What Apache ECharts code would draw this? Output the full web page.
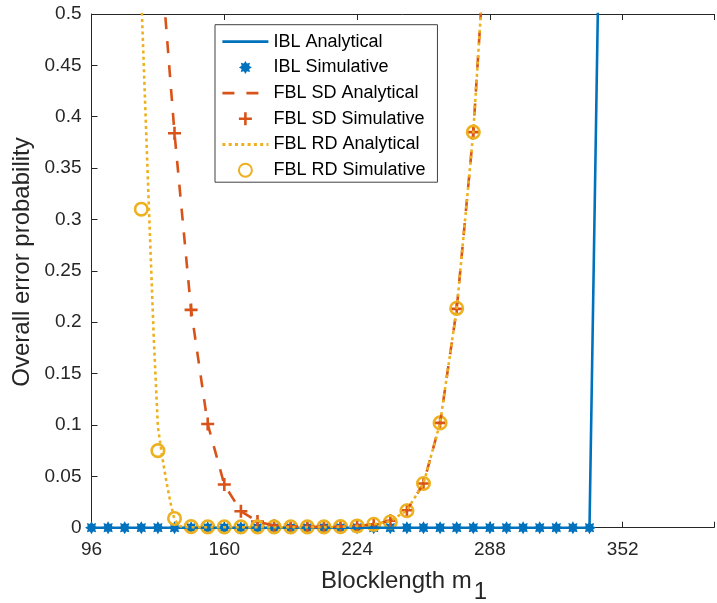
<!DOCTYPE html>
<html><head><meta charset="utf-8">
<script src="https://cdn.jsdelivr.net/npm/echarts@6/dist/echarts.min.js"></script>
<style>html,body{margin:0;padding:0;background:#fff}#c{width:717px;height:603px}</style>
</head><body><div id="c"></div>
<script>
// ---- data ----
const xTickLabels = [96, 160, 224, 288, 352];
const seriesNames = ['IBL Analytical', 'IBL Simulative', 'FBL SD Analytical', 'FBL SD Simulative', 'FBL RD Analytical', 'FBL RD Simulative'];

const iblAnaX = [96,104,112,120,128,136,144,152,160,168,176,184,192,200,208,216,224,232,240,248,256,264,272,280,288,296,304,312,320,328,336,344];
const iblAnaY = [0,0,0,0,0,0,0,0,0,0,0,0,0,0,0,0,0,0,0,0,0,0,0,0,0,0,0,0,0,0,0,1.0];

const iblSimX = [96,104,112,120,128,136,144,152,160,168,176,184,192,200,208,216,224,232,240,248,256,264,272,280,288,296,304,312,320,328,336];
const iblSimY = [0,0,0,0,0,0,0,0,0,0,0,0,0,0,0,0,0,0,0,0,0,0,0,0,0,0,0,0,0,0,0];

const sdAnaX = [128,136,144,152,160,168,176,184,192,200,208,216,224,232,240,248,256,264,272,280,288];
const sdAnaY = [0.59,0.384,0.212,0.101,0.042,0.016,0.006,0.002,0.0012,0.0008,0.0008,0.001,0.0017,0.0033,0.0068,0.017,0.043,0.102,0.213,0.385,0.64];

const sdSimX = [136,144,152,160,168,176,184,192,200,208,216,224,232,240,248,256,264,272,280];
const sdSimY = [0.384,0.212,0.101,0.042,0.016,0.006,0.002,0.0012,0.0008,0.0008,0.001,0.0017,0.0033,0.0068,0.017,0.043,0.102,0.213,0.385];

const rdAnaX = [118,120,122,124,126,128,130,132,134,136,138,140,144,152,160,168,176,184,192,200,208,216,224,232,240,248,256,264,272,280,288];
const rdAnaY = [0.63,0.517,0.405,0.293,0.185,0.098,0.07,0.046,0.025,0.008,0.002,0.0008,0.0005,0.0005,0.0005,0.0005,0.0005,0.0005,0.0005,0.0005,0.0005,0.0008,0.0017,0.0033,0.0062,0.017,0.043,0.102,0.213,0.385,0.64];

const rdSimX = [120,128,136,144,152,160,168,176,184,192,200,208,216,224,232,240,248,256,264,272,280];
const rdSimY = [0.31,0.075,0.009,0.001,0.0008,0.0008,0.0008,0.0008,0.0008,0.0008,0.0008,0.0008,0.001,0.0017,0.0033,0.0055,0.0165,0.043,0.102,0.2135,0.385];

// ---- styling ----
const FONT = 'Liberation Sans, Arial, Helvetica, sans-serif';
const AX = '#262626';
const BLUE = '#0072BD', ORANGE = '#D95319', YELLOW = '#EDB120';

function pairs(xs, ys) { return xs.map((x, i) => [x, ys[i]]); }

// 8-pointed asterisk-like marker
let starPath = 'path://';
for (let i = 0; i < 16; i++) {
  const a = i * Math.PI / 8 - Math.PI / 2;
  const r = (i % 2 === 0) ? 10 : 6.3;
  starPath += (i === 0 ? 'M' : 'L') + (r * Math.cos(a)).toFixed(3) + ',' + (r * Math.sin(a)).toFixed(3);
}
starPath += 'Z';
const plusPath = 'path://M-1.3,-6.5L1.3,-6.5L1.3,-1.3L6.5,-1.3L6.5,1.3L1.3,1.3L1.3,6.5L-1.3,6.5L-1.3,1.3L-6.5,1.3L-6.5,-1.3L-1.3,-1.3Z';

const chart = echarts.init(document.getElementById('c'), null, {renderer: 'canvas'});

const xMin = 96, xMax = 396;
const hideSym = {opacity: 0};

chart.setOption({
  animation: false,
  backgroundColor: '#fff',
  grid: {left: 91.5, top: 14, right: 0, bottom: 75.3, containLabel: false},
  xAxis: [{
    type: 'value', position: 'bottom', min: xMin, max: xMax, interval: 64,
    axisLine: {show: true, onZero: false, lineStyle: {color: AX, width: 1}},
    axisTick: {show: true, inside: true, length: 6, lineStyle: {color: AX}},
    splitLine: {show: false},
    axisLabel: {
      show: true, margin: 13, fontSize: 19, fontFamily: FONT, color: AX,
      formatter: v => (xTickLabels.indexOf(v) >= 0 ? String(v) : '')
    }
  }, {
    type: 'value', position: 'top', min: xMin, max: xMax, interval: 64,
    axisLine: {show: true, onZero: false, lineStyle: {color: AX, width: 1}},
    axisTick: {show: true, inside: true, length: 6, lineStyle: {color: AX}},
    splitLine: {show: false},
    axisLabel: {show: false}
  }],
  yAxis: {
    type: 'value', min: 0, max: 0.5, interval: 0.05,
    axisLine: {show: true, onZero: false, lineStyle: {color: AX, width: 1}},
    axisTick: {show: true, inside: true, length: 6, lineStyle: {color: AX}},
    splitLine: {show: false},
    axisLabel: {
      margin: 10, fontSize: 19, fontFamily: FONT, color: AX,
      formatter: v => String(parseFloat(v.toFixed(2)))
    }
  },
  legend: {
    orient: 'vertical', left: 215, top: 24.7,
    data: [
      {name: seriesNames[0], itemStyle: hideSym, lineStyle: {width: 2.8}},
      {name: seriesNames[1]},
      {name: seriesNames[2], itemStyle: hideSym, lineStyle: {width: 2.8}},
      {name: seriesNames[3]},
      {name: seriesNames[4], itemStyle: hideSym, lineStyle: {width: 2.8}},
      {name: seriesNames[5]}
    ],
    backgroundColor: '#fff', borderColor: '#404040', borderWidth: 1,
    padding: [8, 12, 3, 6],
    itemWidth: 46, itemHeight: 13, itemGap: 7.7,
    textStyle: {fontSize: 18, fontFamily: FONT, color: '#000'},
    selectedMode: false
  },
  graphic: [
    {
      type: 'text', x: 404, y: 581, z: 100,
      style: {
        text: 'Blocklength m{s|1}', fill: AX, font: '24px ' + FONT,
        align: 'center', verticalAlign: 'middle',
        rich: {s: {fontSize: 24, fontFamily: FONT, fill: AX, padding: [22, 0, 0, 2]}}
      }
    },
    {
      type: 'text', x: 22, y: 262, rotation: Math.PI / 2, z: 100,
      style: {
        text: 'Overall error probability', fill: AX, font: '24px ' + FONT,
        align: 'center', verticalAlign: 'middle'
      }
    }
  ],
  series: [
    {
      name: seriesNames[0], type: 'line', data: pairs(iblAnaX, iblAnaY),
      showSymbol: false, symbol: 'none', clip: true,
      lineStyle: {color: BLUE, width: 2.6, type: 'solid'}, itemStyle: {color: BLUE}
    },
    {
      name: seriesNames[1], type: 'scatter', data: pairs(iblSimX, iblSimY),
      symbol: starPath, symbolSize: 13, clip: false,
      itemStyle: {color: BLUE, opacity: 1}
    },
    {
      name: seriesNames[2], type: 'line', data: pairs(sdAnaX, sdAnaY),
      showSymbol: false, symbol: 'none', clip: true,
      lineStyle: {color: ORANGE, width: 2.6, type: [12, 12]}, itemStyle: {color: ORANGE}
    },
    {
      name: seriesNames[3], type: 'scatter', data: pairs(sdSimX, sdSimY),
      symbol: plusPath, symbolSize: 13, clip: false,
      itemStyle: {color: ORANGE, opacity: 1}
    },
    {
      name: seriesNames[4], type: 'line', data: pairs(rdAnaX, rdAnaY),
      showSymbol: false, symbol: 'none', clip: true,
      lineStyle: {color: YELLOW, width: 2.6, type: [3, 3.3]}, itemStyle: {color: YELLOW}
    },
    {
      name: seriesNames[5], type: 'scatter', data: pairs(rdSimX, rdSimY),
      symbol: 'circle', symbolSize: 12.5, clip: false,
      itemStyle: {color: 'rgba(255,255,255,0)', borderColor: YELLOW, borderWidth: 2.6, opacity: 1}
    }
  ]
});
</script>
</body></html>
